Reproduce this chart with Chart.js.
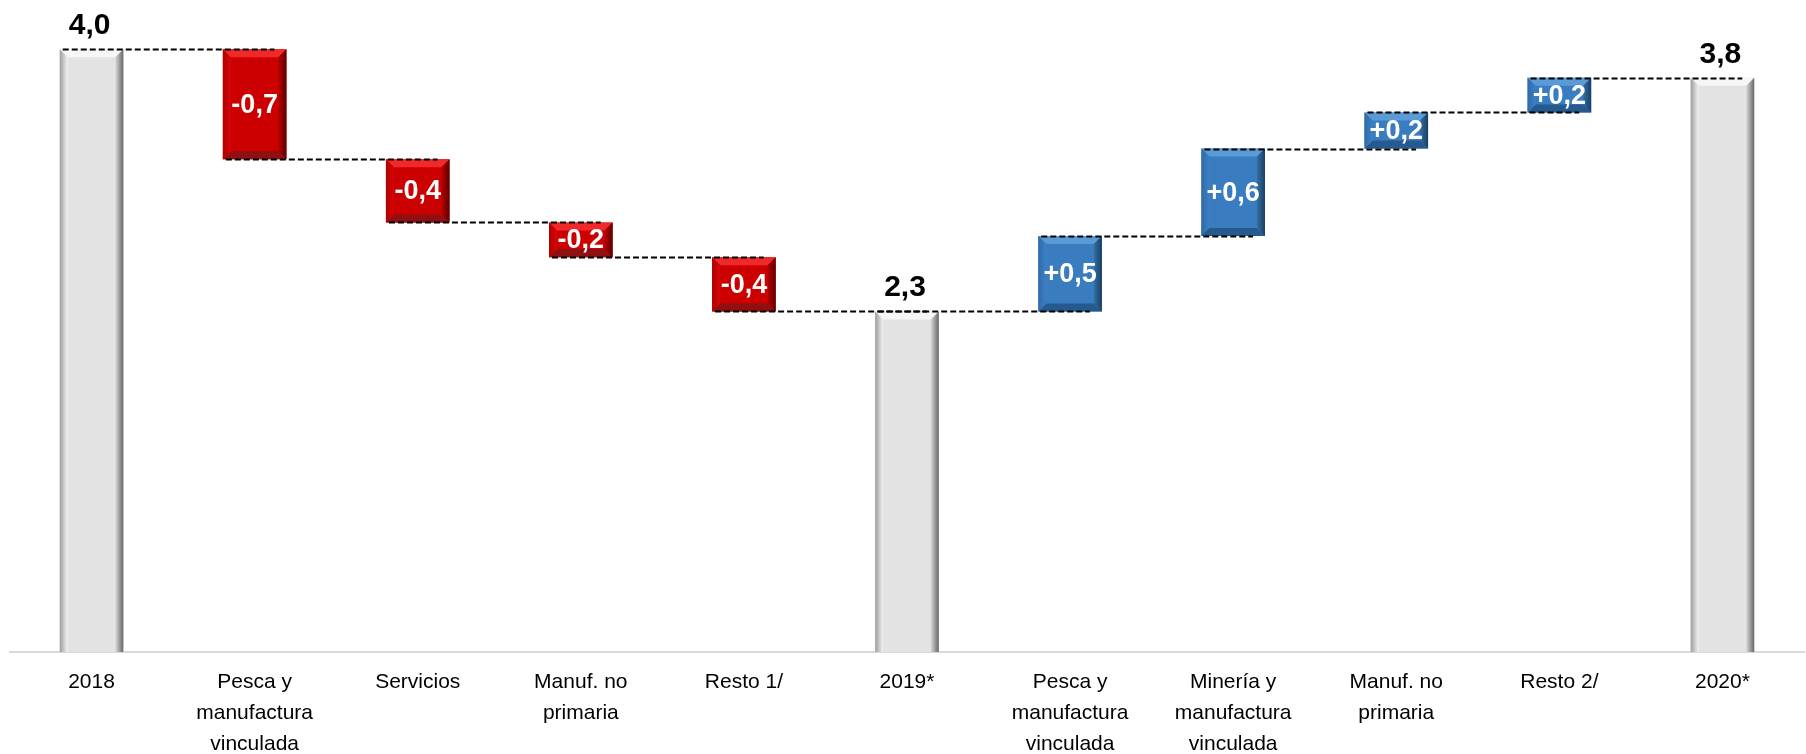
<!DOCTYPE html>
<html>
<head>
<meta charset="utf-8">
<script src="https://cdn.jsdelivr.net/npm/chart.js@4/dist/chart.umd.min.js"></script>
<style>
  html, body { margin: 0; padding: 0; background: #ffffff; }
  #wrap { width: 1806px; height: 754px; position: relative; }
</style>
</head>
<body>
<div id="wrap"><canvas id="c"></canvas></div>
<script>
// ---- data ----
const categories = [
  ['2018'],
  ['Pesca y', 'manufactura', 'vinculada'],
  ['Servicios'],
  ['Manuf. no', 'primaria'],
  ['Resto 1/'],
  ['2019*'],
  ['Pesca y', 'manufactura', 'vinculada'],
  ['Minería y', 'manufactura', 'vinculada'],
  ['Manuf. no', 'primaria'],
  ['Resto 2/'],
  ['2020*']
];
const start2018 = 4.0;
const changes2019 = [-0.73, -0.42, -0.23, -0.36];
const changes2020 = [0.50, 0.58, 0.24, 0.23];

// ---- build floating bars ----
const barData = [];
const kinds = [];
const values = [];
let level = start2018;
barData.push([0, level]); kinds.push('total'); values.push(level);
changes2019.forEach(d => { barData.push([level, level + d]); kinds.push('neg'); values.push(d); level += d; });
barData.push([0, level]); kinds.push('total'); values.push(level);
changes2020.forEach(d => { barData.push([level, level + d]); kinds.push('pos'); values.push(d); level += d; });
barData.push([0, level]); kinds.push('total'); values.push(level);

const fmt = v => v.toFixed(1).replace('.', ',');
const labelText = (k, v) => k === 'total' ? fmt(v) : (v > 0 ? '+' : '') + fmt(v);

const palette = {
  total: { main: '#e3e3e3', top: '#f6f6f6', bottom: '#d4d4d4', l0: '#9c9c9c', l1: '#f4f4f4', r0: '#d8d8d8', r1: '#666666' },
  neg:   { main: '#cc0000', top: '#f02a2a', bottom: '#8e1010', l0: '#b00000', l1: '#d60606', r0: '#b80000', r1: '#5a0000' },
  pos:   { main: '#3a7cc0', top: '#5a9ad6', bottom: '#265a8e', l0: '#2f6aa8', l1: '#3d80c4', r0: '#33709f', r1: '#1a3e66' }
};

function poly(ctx, pts, fill) {
  ctx.beginPath();
  ctx.moveTo(pts[0][0], pts[0][1]);
  for (let i = 1; i < pts.length; i++) ctx.lineTo(pts[i][0], pts[i][1]);
  ctx.closePath();
  ctx.fillStyle = fill;
  ctx.fill();
}

const bevelPlugin = {
  id: 'bevel',
  afterDatasetsDraw(chart) {
    const ctx = chart.ctx;
    const yScale = chart.scales.y;
    const meta = chart.getDatasetMeta(0);
    const elems = meta.data.map(e => e.getProps(['x', 'y', 'base', 'width'], true));
    ctx.save();
    // bevels
    elems.forEach((p, i) => {
      const c = palette[kinds[i]];
      const l = p.x - p.width / 2, r = p.x + p.width / 2;
      const t = Math.min(p.y, p.base), b = Math.max(p.y, p.base);
      const s = Math.min(8, (b - t) / 3.5);
      const sb = kinds[i] === 'total' ? 0 : s;
      poly(ctx, [[l, t], [r, t], [r - s, t + s], [l + s, t + s]], c.top);
      poly(ctx, [[l, b], [r, b], [r - s, b - sb], [l + s, b - sb]], c.bottom);
      let g = ctx.createLinearGradient(l, 0, l + s, 0);
      g.addColorStop(0, c.l0); g.addColorStop(1, c.l1);
      poly(ctx, [[l, t], [l + s, t + s], [l + s, b - sb], [l, b]], g);
      g = ctx.createLinearGradient(r - s, 0, r, 0);
      g.addColorStop(0, c.r0); g.addColorStop(1, c.r1);
      poly(ctx, [[r, t], [r - s, t + s], [r - s, b - sb], [r, b]], g);
    });
    // dashed connectors at the end level of each bar
    ctx.strokeStyle = '#000000';
    ctx.lineWidth = 2;
    ctx.setLineDash([6, 3]);
    for (let i = 0; i < elems.length - 1; i++) {
      const a = elems[i], n = elems[i + 1];
      const y = Math.round(yScale.getPixelForValue(barData[i][1])) + 0.5;
      ctx.beginPath();
      ctx.moveTo(a.x - a.width / 2 + 3, y);
      ctx.lineTo(n.x + n.width / 2 - 12, y);
      ctx.stroke();
    }
    ctx.setLineDash([]);
    // value labels
    ctx.textAlign = 'center';
    elems.forEach((p, i) => {
      const txt = labelText(kinds[i], values[i]);
      const t = Math.min(p.y, p.base), b = Math.max(p.y, p.base);
      if (kinds[i] === 'total') {
        ctx.fillStyle = '#000000';
        ctx.font = 'bold 30px "Liberation Sans", Arial, sans-serif';
        ctx.textBaseline = 'alphabetic';
        ctx.fillText(txt, p.x - 2, t - 15);
      } else {
        ctx.fillStyle = '#ffffff';
        ctx.font = 'bold 27px "Liberation Sans", Arial, sans-serif';
        ctx.textBaseline = 'middle';
        ctx.fillText(txt, p.x, (t + b) / 2 + 1);
      }
    });
    ctx.restore();
  }
};

new Chart(document.getElementById('c'), {
  type: 'bar',
  data: {
    labels: categories,
    datasets: [{
      data: barData,
      backgroundColor: kinds.map(k => palette[k].main),
      borderWidth: 0,
      barPercentage: 0.39,
      categoryPercentage: 1.0
    }]
  },
  options: {
    responsive: true,
    maintainAspectRatio: false,
    animation: false,
    events: [],
    layout: { padding: { left: 10, right: 2, top: 19, bottom: 0 } },
    plugins: { legend: { display: false }, tooltip: { enabled: false } },
    scales: {
      x: {
        grid: { display: false, drawTicks: false },
        border: { display: true, color: '#d9d9d9', width: 2 },
        ticks: {
          color: '#000000',
          font: { family: '"Liberation Sans Narrow", "Arial Narrow", "Liberation Sans", Arial, sans-serif', size: 21, lineHeight: 1.48 },
          padding: 15,
          maxRotation: 0,
          autoSkip: false
        },
        afterFit(scale) { scale.height = 102; }
      },
      y: { display: false, min: 0, max: 4.2 }
    }
  },
  plugins: [bevelPlugin]
});
</script>
</body>
</html>
